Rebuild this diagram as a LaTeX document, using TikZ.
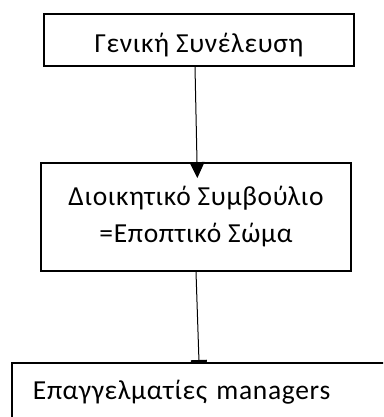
\documentclass[tikz,border=0pt]{standalone}
\usepackage{fontspec}
\setmainfont[LetterSpace=2.5]{Carlito}
\usetikzlibrary{arrows.meta, positioning, calc}
\tikzset{
  box/.style={draw, line width=1.8pt, minimum width=310pt},
  link/.style={line width=1pt},
}
\begin{document}
\begin{tikzpicture}[x=1pt, y=-1pt, font=\fontsize{27.5}{37}\selectfont]
  \useasboundingbox (0,0) rectangle (383,417);
  \clip (0,0) rectangle (383,417);

  \node[box, minimum height=52pt, text height=26pt, text depth=0pt] (A) at (199,40)
    {Γενική Συνέλευση};
  \node[box, minimum height=108pt, align=center] (B) at (196,217)
    {Διοικητικό Συμβούλιο\\=Εποπτικό Σώμα};
  \node[box, anchor=north west, text width=378pt, inner xsep=21pt,
    minimum height=62pt, text height=18pt, text depth=6pt, align=left] (C) at (11,362)
    {Επαγγελματίες managers};

  \draw[link, -{Triangle[length=16pt,width=15pt]}, shorten >=-16pt]
    ([xshift=-4pt]A.south) -- ([xshift=1pt]B.north);
  \draw[link, -{Rectangle[length=2pt,width=16pt]}]
    (B.south) -- ([xshift=188pt]C.north west);
\end{tikzpicture}
\end{document}
